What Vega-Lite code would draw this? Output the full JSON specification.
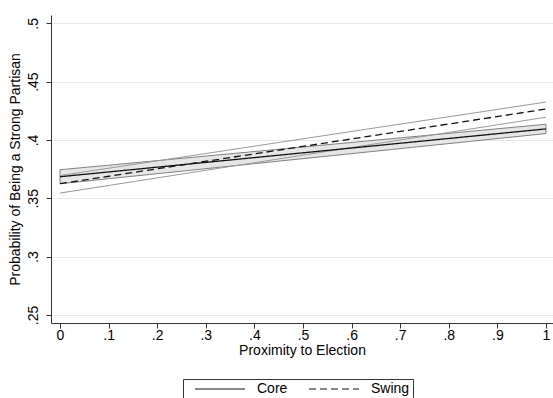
{
  "$schema": "https://vega.github.io/schema/vega-lite/v6.json",
  "width": 502,
  "height": 308,
  "autosize": {"type": "none"},
  "padding": {"left": 51, "top": 15, "right": 0, "bottom": 75},
  "background": "white",
  "config": {
    "font": "Liberation Sans",
    "view": {"stroke": null},
    "axis": {
      "labelFont": "Liberation Sans",
      "titleFont": "Liberation Sans",
      "labelFontSize": 14,
      "titleFontSize": 14,
      "labelColor": "#000",
      "titleColor": "#000",
      "titleFontWeight": "normal",
      "domainColor": "#333",
      "tickColor": "#333",
      "tickSize": 5,
      "gridColor": "#e8e8e8",
      "gridWidth": 1
    },
    "legend": {
      "labelFont": "Liberation Sans",
      "labelFontSize": 14,
      "labelColor": "#000"
    }
  },
  "data": {
    "values": [
      {"x": 0, "series": "Core", "mean": 0.3685, "lo": 0.3625, "hi": 0.3745},
      {"x": 1, "series": "Core", "mean": 0.4095, "lo": 0.4055, "hi": 0.4135},
      {"x": 0, "series": "Swing", "mean": 0.3625, "lo": 0.3545, "hi": 0.3695},
      {"x": 1, "series": "Swing", "mean": 0.4265, "lo": 0.4195, "hi": 0.4325}
    ]
  },
  "encoding": {
    "x": {
      "field": "x",
      "type": "quantitative",
      "scale": {"domain": [-0.01852, 1.0144], "nice": false, "zero": false},
      "axis": {
        "title": "Proximity to Election",
        "values": [0, 0.1, 0.2, 0.3, 0.4, 0.5, 0.6, 0.7, 0.8, 0.9, 1],
        "labelExpr": "datum.value == 0 ? '0' : datum.value == 1 ? '1' : replace(format(datum.value, '.1f'), '0.', '.')",
        "grid": false,
        "labelPadding": 0,
        "titlePadding": 1,
        "labelFlush": false
      }
    }
  },
  "layer": [
    {
      "transform": [{"filter": "datum.series == 'Core'"}],
      "mark": {"type": "area", "fill": "#e6e6e6", "stroke": "#808080", "strokeWidth": 1},
      "encoding": {
        "y": {
          "field": "lo",
          "type": "quantitative",
          "scale": {"domain": [0.24314, 0.50711], "nice": false, "zero": false},
          "axis": {
            "title": "Probability of Being a Strong Partisan",
            "values": [0.25, 0.3, 0.35, 0.4, 0.45, 0.5],
            "labelExpr": "replace(format(datum.value, '.2~f'), '0.', '.')",
            "labelAngle": -90,
            "labelAlign": "center",
            "labelBaseline": "bottom",
            "labelPadding": 6,
            "titlePadding": 4,
            "grid": true
          }
        },
        "y2": {"field": "hi"}
      }
    },
    {
      "transform": [{"filter": "datum.series == 'Swing'"}],
      "mark": {"type": "line", "color": "#9a9a9a", "strokeWidth": 1},
      "encoding": {"y": {"field": "lo", "type": "quantitative"}}
    },
    {
      "transform": [{"filter": "datum.series == 'Swing'"}],
      "mark": {"type": "line", "color": "#9a9a9a", "strokeWidth": 1},
      "encoding": {"y": {"field": "hi", "type": "quantitative"}}
    },
    {
      "mark": {"type": "line", "color": "#111", "strokeWidth": 1.3},
      "encoding": {
        "y": {"field": "mean", "type": "quantitative"},
        "strokeDash": {
          "field": "series",
          "type": "nominal",
          "scale": {"domain": ["Core", "Swing"], "range": [[1, 0], [7, 4]]},
          "legend": {
            "title": null,
            "orient": "none",
            "legendX": 132,
            "legendY": 364,
            "direction": "horizontal",
            "columns": 2,
            "columnPadding": 12,
            "symbolType": "M0.4,0H10.4",
            "symbolSize": 100,
            "symbolStrokeWidth": 1.2,
            "symbolStrokeColor": "#111",
            "labelOffset": 57,
            "strokeColor": "#333",
            "fillColor": "white",
            "padding": 3
          }
        }
      }
    }
  ]
}
